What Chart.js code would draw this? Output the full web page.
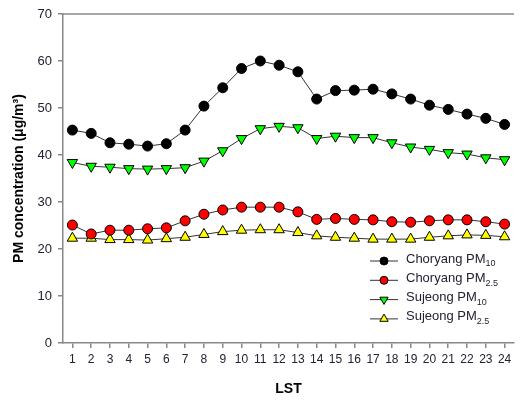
<!DOCTYPE html>
<html>
<head>
<meta charset="utf-8">
<script src="https://cdn.jsdelivr.net/npm/chart.js@4/dist/chart.umd.min.js"></script>
<style>
  body { margin: 0; background: #fff; }
  canvas { display: block; }
</style>
</head>
<body>
<canvas id="pm" width="521" height="402"></canvas>
<script>
// hours (LST)
var hours = ['1','2','3','4','5','6','7','8','9','10','11','12','13','14','15','16','17','18','19','20','21','22','23','24'];

var choryangPM10 = [45.3, 44.6, 42.6, 42.3, 41.9, 42.4, 45.3, 50.4, 54.3, 58.4, 60.0, 59.1,
                    57.7, 51.9, 53.7, 53.8, 54.0, 53.0, 51.9, 50.6, 49.7, 48.7, 47.8, 46.5];
var choryangPM25 = [25.1, 23.2, 24.0, 24.0, 24.3, 24.5, 26.0, 27.4, 28.3, 28.9, 28.9, 28.9,
                    27.9, 26.3, 26.5, 26.3, 26.2, 25.8, 25.7, 26.0, 26.2, 26.2, 25.8, 25.3];
var sujeongPM10  = [38.4, 37.6, 37.4, 37.1, 37.0, 37.1, 37.3, 38.7, 40.9, 43.5, 45.6, 46.1,
                    45.8, 43.5, 44.0, 43.7, 43.7, 42.6, 41.7, 41.2, 40.5, 40.2, 39.4, 39.0];
var sujeongPM25  = [22.3, 22.3, 22.0, 22.0, 21.9, 22.2, 22.5, 23.1, 23.7, 24.0, 24.1, 24.1,
                    23.5, 22.8, 22.5, 22.3, 22.1, 22.1, 22.1, 22.5, 22.8, 23.0, 22.9, 22.6];
var yTicks = [0, 10, 20, 30, 40, 50, 60, 70];

var axisGray = '#888888';
var textCol = '#222233';

function series(label, sub, data, fill, style, rot, r) {
    return {
        label: label,
        sub: sub,
        data: data,
        borderColor: '#333333',
        borderWidth: 1,
        pointStyle: style,
        rotation: rot,
        pointRadius: r,
        pointHoverRadius: r,
        pointBackgroundColor: fill,
        pointBorderColor: '#000000',
        pointBorderWidth: 1,
        tension: 0
    };
}

// legend with subscripts + top frame line
var extras = {
    id: 'extras',
    afterDraw: function (chart) {
        var ctx = chart.ctx;
        var a = chart.chartArea;
        ctx.save();
        ctx.strokeStyle = axisGray;
        ctx.lineWidth = 1.5;
        ctx.beginPath();
        ctx.moveTo(a.left, a.top);
        ctx.lineTo(a.right, a.top);
        ctx.stroke();

        chart.data.datasets.forEach(function (ds, i) {
            var y = 261 + i * 19.3;
            ctx.strokeStyle = '#333333';
            ctx.lineWidth = 1;
            ctx.beginPath();
            ctx.moveTo(370, y);
            ctx.lineTo(398, y);
            ctx.stroke();

            ctx.fillStyle = ds.pointBackgroundColor;
            ctx.strokeStyle = '#000000';
            ctx.beginPath();
            var r = ds.pointRadius * 0.8;
            if (ds.pointStyle === 'circle') {
                ctx.arc(384, y, r, 0, Math.PI * 2);
            } else {
                var s = ds.rotation === 180 ? -1 : 1;
                for (var k = 0; k < 3; k++) {
                    var ang = k * 2 * Math.PI / 3;
                    var px = 384 + Math.sin(ang) * r;
                    var py = y - s * Math.cos(ang) * r;
                    if (k === 0) ctx.moveTo(px, py); else ctx.lineTo(px, py);
                }
                ctx.closePath();
            }
            ctx.fill();
            ctx.stroke();

            ctx.fillStyle = textCol;
            ctx.textBaseline = 'middle';
            ctx.textAlign = 'left';
            ctx.font = '13px "Liberation Sans", Arial, sans-serif';
            ctx.fillText(ds.label, 406, y - 2);
            var w = ctx.measureText(ds.label).width;
            ctx.font = '9px "Liberation Sans", Arial, sans-serif';
            ctx.fillText(ds.sub, 406 + w, y + 3);
        });
        ctx.restore();
    }
};

new Chart(document.getElementById('pm').getContext('2d'), {
    type: 'line',
    data: {
        labels: hours,
        datasets: [
            series('Choryang PM', '10', choryangPM10, '#000000', 'circle', 0, 5),
            series('Choryang PM', '2.5', choryangPM25, '#ff0000', 'circle', 0, 5),
            series('Sujeong PM', '10', sujeongPM10, '#00ff00', 'triangle', 180, 6),
            series('Sujeong PM', '2.5', sujeongPM25, '#ffff00', 'triangle', 0, 6)
        ]
    },
    options: {
        responsive: false,
        animation: false,
        layout: { padding: { top: 14, right: 0, left: 0, bottom: 0 } },
        plugins: {
            legend: { display: false },
            tooltip: { enabled: false }
        },
        scales: {
            x: {
                offset: true,
                grid: { drawOnChartArea: false, tickLength: 5, color: axisGray, lineWidth: 1.5 },
                border: { color: axisGray, width: 1.5 },
                ticks: {
                    color: textCol, padding: 4, maxRotation: 0, autoSkip: false,
                    font: { family: '"Liberation Sans", Arial, sans-serif', size: 12 }
                },
                title: {
                    display: true, text: 'LST', color: '#000',
                    font: { family: '"Liberation Sans", Arial, sans-serif', size: 14, weight: 'bold' },
                    padding: { top: 4, bottom: 4 }
                },
                afterFit: function (s) { s.height = 59; }
            },
            y: {
                min: 0,
                max: 70,
                afterBuildTicks: function (s) { s.ticks = yTicks.map(function (v) { return { value: v }; }); },
                grid: { drawOnChartArea: false, tickLength: 5, color: axisGray, lineWidth: 1.5 },
                border: { color: axisGray, width: 1.5 },
                ticks: {
                    color: textCol, padding: 6,
                    font: { family: '"Liberation Sans", Arial, sans-serif', size: 13 }
                },
                title: {
                    display: true, text: 'PM concentration (μg/m³)', color: '#000',
                    font: { family: '"Liberation Sans", Arial, sans-serif', size: 14, weight: 'bold' },
                    padding: { top: 11, bottom: 11 }
                },
                afterFit: function (s) { s.width = 63; }
            }
        }
    },
    plugins: [extras]
});
</script>
</body>
</html>
